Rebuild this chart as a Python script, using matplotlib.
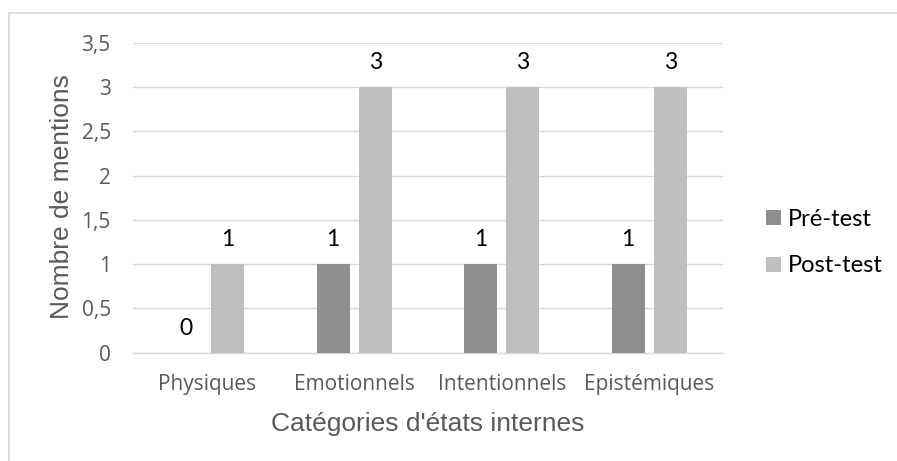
import matplotlib
matplotlib.use("Agg")
import matplotlib.pyplot as plt
import numpy as np
from matplotlib.lines import Line2D

categories = ["Physiques", "Emotionnels", "Intentionnels", "Epistémiques"]
pre_test = [0, 1, 1, 1]
post_test = [1, 3, 3, 3]
series_names = ["Pré-test", "Post-test"]
y_ticks = [0, 0.5, 1, 1.5, 2, 2.5, 3, 3.5]
y_tick_labels = ["0", "0,5", "1", "1,5", "2", "2,5", "3", "3,5"]

DARK, LIGHT, GRID, TXT = "#8f8f8f", "#bfbfbf", "#d9d9d9", "#595959"

fig = plt.figure(figsize=(8.97, 4.61), dpi=100)
ax = fig.add_axes([133 / 897, 1 - 352.7 / 461, 590 / 897, 310 / 461])

x = np.arange(len(categories))
w, off = 0.224, 0.1425
b1 = ax.bar(x - off, pre_test, w, color=DARK, label=series_names[0], zorder=3)
b2 = ax.bar(x + off, post_test, w, color=LIGHT, label=series_names[1], zorder=3)
for b in (b1, b2):
    ax.bar_label(b, padding=10, fontsize=16.5, family=["Lato", "DejaVu Sans"], color="black")

ax.set_xlim(-0.5, len(categories) - 0.5)
ax.set_ylim(0, 3.5)
ax.set_yticks(y_ticks, y_tick_labels)
ax.set_xticks(x, categories)
ax.yaxis.grid(True, color=GRID, lw=1.0, zorder=0)
ax.set_axisbelow(True)
for s in ("top", "right", "left"):
    ax.spines[s].set_visible(False)
ax.spines["bottom"].set_color(GRID)
ax.spines["bottom"].set_linewidth(1.0)
ax.tick_params(axis="both", length=0, colors=TXT, labelsize=15)
ax.tick_params(axis="y", pad=16)
ax.tick_params(axis="x", pad=15)
for t in ax.get_xticklabels() + ax.get_yticklabels():
    t.set_family(["Open Sans", "DejaVu Sans"])

ax.set_xlabel("Catégories d'états internes", fontsize=19, color=TXT,
              family=["Liberation Sans", "DejaVu Sans"])
ax.xaxis.set_label_coords(0.5, -0.191)
ax.set_ylabel("Nombre de mentions", fontsize=19, color=TXT,
              family=["Liberation Sans", "DejaVu Sans"])
ax.yaxis.set_label_coords(-0.1007, 0.505)

ax.legend(loc="center left", bbox_to_anchor=(766 / 897, 1 - 242.5 / 461),
          bbox_transform=fig.transFigure, frameon=False, borderpad=0,
          borderaxespad=0, handlelength=0.62, handleheight=0.62,
          handletextpad=0.3, labelspacing=1.1,
          prop={"family": ["Lato", "DejaVu Sans"], "size": 17})

# chart frame edges (top and left)
fig.add_artist(Line2D([8.5 / 897, 1], [1 - 13.5 / 461] * 2, color=GRID, lw=1.3,
                      transform=fig.transFigure))
fig.add_artist(Line2D([8.5 / 897] * 2, [0, 1 - 13.5 / 461], color=GRID, lw=1.3,
                      transform=fig.transFigure))

fig.savefig("out.png", dpi=100)
